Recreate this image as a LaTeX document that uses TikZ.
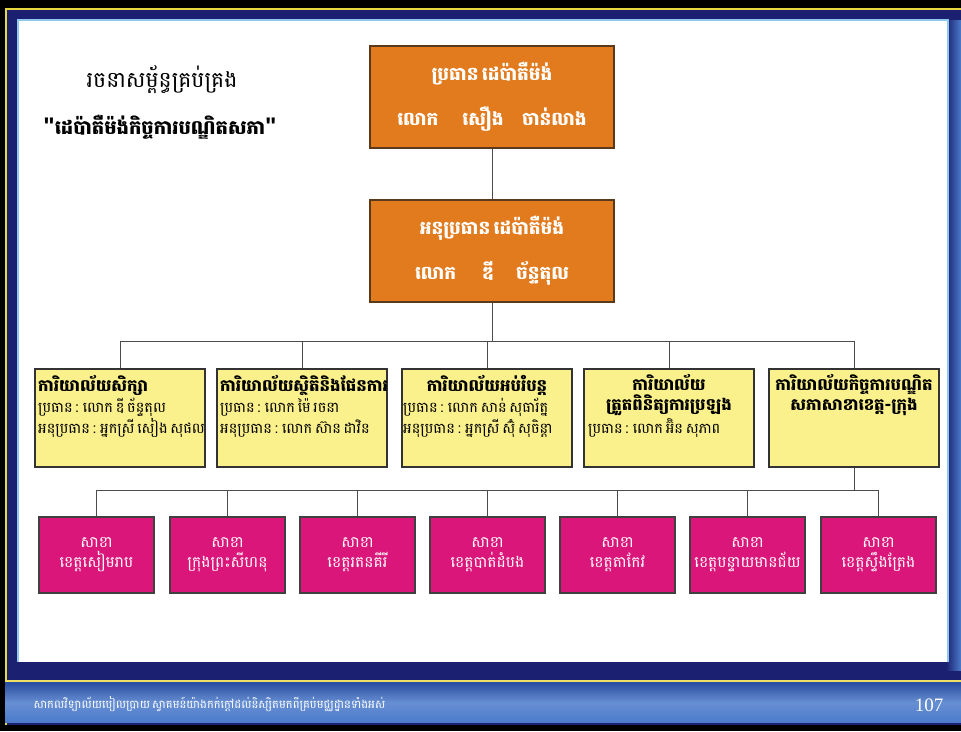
\documentclass[tikz,border=0pt]{standalone}
\usepackage{fontspec}
\setmainfont{Liberation Serif}
\newfontfamily\kh[Script=Khmer]{Battambang}
\newfontfamily\khn[Script=Khmer,WordSpace=0.55]{Battambang}
\usetikzlibrary{positioning}
\definecolor{navy}{HTML}{1C2070}
\definecolor{frameyel}{HTML}{E8D840}
\definecolor{innerblue}{HTML}{8EC8F0}
\definecolor{orangebox}{HTML}{E27A1E}
\definecolor{orangeedge}{HTML}{5A3A1A}
\definecolor{yelbox}{HTML}{FAF08C}
\definecolor{magbox}{HTML}{DA167A}
\definecolor{footA}{HTML}{2A4FA0}
\definecolor{footB}{HTML}{4C7BCB}
\begin{document}
\begin{tikzpicture}[x=1pt,y=-1pt,
  headbox/.style={draw=orangeedge,line width=1.6pt,fill=orangebox,minimum width=244pt,minimum height=102pt,
    text=white,align=center,font=\kh\bfseries\fontsize{18.5}{45}\selectfont},
  officebox/.style={draw=black!80,line width=1.6pt,fill=yelbox,minimum width=170pt,minimum height=98pt},
  branchbox/.style={draw=black!75,line width=1.4pt,fill=magbox,minimum width=115pt,minimum height=76pt,
    text=white,align=center,font=\kh\fontsize{15.5}{20}\selectfont},
  otitle/.style={font=\kh\bfseries\fontsize{16.5}{20}\selectfont,align=center,inner sep=0pt},
  obody/.style={font=\khn\fontsize{14.5}{21}\selectfont,align=left,inner sep=0pt,anchor=north west},
  link/.style={draw=black!70,line width=1pt}]
\useasboundingbox (0,0) rectangle (961,731);
% frame
\fill[black] (0,0) rectangle (961,731);
\fill[navy] (5,8) rectangle (961,725);
\draw[frameyel,line width=2pt] (6,725) -- (6,9) -- (961,9);
\fill[footA] (5,682) rectangle (961,722);
\shade[top color=footA,bottom color=footB,middle color=footB!85!white] (5,683) rectangle (961,722);
\draw[frameyel!80!white,line width=1.5pt] (5,681) -- (961,681);
\shade[left color=navy,right color=footB] (946,20) rectangle (961,670);
\fill[white] (18,20) rectangle (948,662);
\draw[innerblue,line width=1.5pt] (18,662) -- (18,20) -- (948,20) -- (948,662);
% title
\node[font=\kh\fontsize{22}{26}\selectfont] (t1) at (162,80) {រចនាសម្ព័ន្ធគ្រប់គ្រង};
\node[font=\kh\bfseries\fontsize{19.5}{24}\selectfont] (t2) at (160,127) {{\fontspec{Liberation Sans}\bfseries\fontsize{24}{24}\selectfont"}ដេប៉ាតឺម៉ង់កិច្ចការបណ្ឌិតសភា{\fontspec{Liberation Sans}\bfseries\fontsize{24}{24}\selectfont"}};
% head boxes
\node[headbox] (head) at (492,97) {ប្រធាន ដេប៉ាតឺម៉ង់\\លោក\hspace{1.3em}សឿង\hspace{1em}ចាន់លាង};
\node[headbox] (vice) at (492,251) {អនុប្រធាន ដេប៉ាតឺម៉ង់\\លោក\hspace{1.4em}ឌី\hspace{1.2em}ច័ន្ទតុល};
% offices
\node[officebox] (o1) at (120,418) {};
\node[officebox] (o2) at (302,418) {};
\node[officebox] (o3) at (487,418) {};
\node[officebox] (o4) at (669,418) {};
\node[officebox] (o5) at (854,418) {};
\node[otitle,anchor=west] (o1t) at (38,385) {ការិយាល័យសិក្សា};
\node[obody] (o1b) at (38,398) {ប្រធាន : លោក ឌី ច័ន្ទតុល\\អនុប្រធាន : អ្នកស្រី សៀង សុផល};
\node[otitle,anchor=west] (o2t) at (220,385) {ការិយាល័យស្ថិតិនិងផែនការ};
\node[obody] (o2b) at (220,398) {ប្រធាន : លោក ម៉ៃ រចនា\\អនុប្រធាន : លោក ស៊ាន ដាវិន};
\node[otitle] (o3t) at (487,385) {ការិយាល័យអប់រំបន្ត};
\node[obody] (o3b) at (403,398) {ប្រធាន : លោក សាន់ សុធារ័ត្ន\\អនុប្រធាន : អ្នកស្រី ស៊ុំ សុចិន្តា};
\node[otitle] (o4t) at (669,395) {ការិយាល័យ\\ត្រួតពិនិត្យការប្រឡង};
\node[obody] (o4b) at (588,418) {ប្រធាន : លោក អ៊ិន សុភាព};
\node[otitle] (o5t) at (854,395) {ការិយាល័យកិច្ចការបណ្ឌិត\\សភាសាខាខេត្ត-ក្រុង};
% branches
\node[branchbox] (b1) at (96.5,555) {សាខា\\ខេត្តសៀមរាប};
\node[branchbox] (b2) at (227.5,555) {សាខា\\ក្រុងព្រះសីហនុ};
\node[branchbox] (b3) at (357.5,555) {សាខា\\ខេត្តរតនគីរី};
\node[branchbox] (b4) at (487.5,555) {សាខា\\ខេត្តបាត់ដំបង};
\node[branchbox] (b5) at (617.5,555) {សាខា\\ខេត្តតាកែវ};
\node[branchbox] (b6) at (747.5,555) {សាខា\\ខេត្តបន្ទាយមានជ័យ};
\node[branchbox] (b7) at (878.5,555) {សាខា\\ខេត្តស្ទឹងត្រែង};
% connectors
\coordinate (bus1) at (492,341);
\coordinate (bus2) at (854,490);
\draw[link] (head.south) -- (vice.north);
\draw[link] (vice.south) -- (bus1);
\draw[link] (o1.north) -- (o1.north |- bus1) -- (o5.north |- bus1) -- (o5.north);
\foreach \n in {o2,o3,o4} \draw[link] (\n.north) -- (\n.north |- bus1);
\draw[link] (o5.south) -- (bus2);
\draw[link] (b1.north) -- (b1.north |- bus2) -- (b7.north |- bus2) -- (b7.north);
\foreach \n in {b2,b3,b4,b5,b6} \draw[link] (\n.north) -- (\n.north |- bus2);
% footer
\node[font=\kh\fontsize{11.5}{13}\selectfont,text=white,anchor=west] (foot) at (30,704) {សាកលវិទ្យាល័យបៀលប្រាយ ស្វាគមន៍យ៉ាងកក់ក្តៅដល់និស្សិតមកពីគ្រប់មជ្ឈដ្ឋានទាំងអស់};
\node[font=\fontsize{19}{22}\selectfont,text=white] (page) at (929,705) {107};
\end{tikzpicture}
\end{document}
